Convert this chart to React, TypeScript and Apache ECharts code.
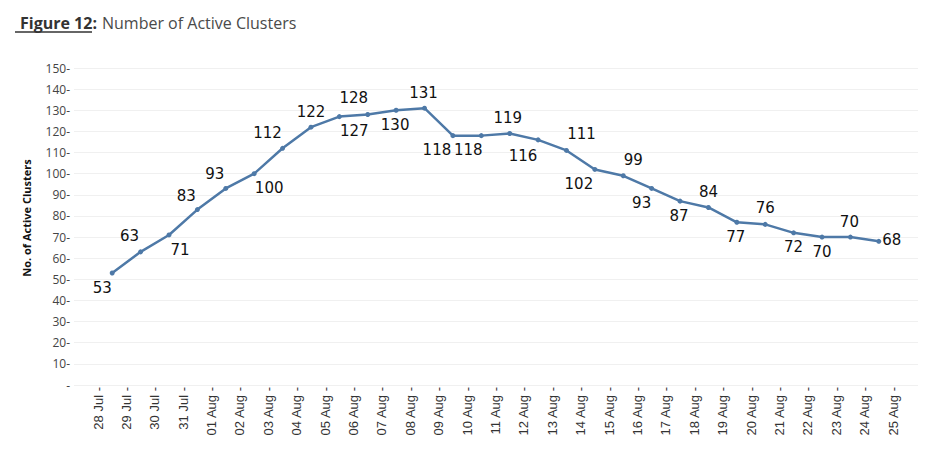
import React, { useEffect, useRef } from 'react';
import * as echarts from 'echarts';

const dates = [
  '28 Jul', '29 Jul', '30 Jul', '31 Jul', '01 Aug', '02 Aug', '03 Aug', '04 Aug',
  '05 Aug', '06 Aug', '07 Aug', '08 Aug', '09 Aug', '10 Aug', '11 Aug', '12 Aug',
  '13 Aug', '14 Aug', '15 Aug', '16 Aug', '17 Aug', '18 Aug', '19 Aug', '20 Aug',
  '21 Aug', '22 Aug', '23 Aug', '24 Aug', '25 Aug',
];

const activeClusters = [
  53, 63, 71, 83, 93, 100, 112, 122, 127, 128, 130, 131, 118, 118,
  119, 116, 111, 102, 99, 93, 87, 84, 77, 76, 72, 70, 70, 68,
];

const yMin = 0;
const yMax = 150;
const yInterval = 10;

// label placement (dx, dy) relative to each point
const labelOffsets: number[][] = [
  [-10, 15], [-11, -16], [11, 15], [-11, -14], [-11, -14], [15, 14], [-15, -15],
  [0, -15], [15, 14], [-14, -16], [-1, 15], [-1, -15], [-16, 14], [-13, 14],
  [-2, -16], [-15, 16], [15, -16], [-16, 15], [10, -16], [-10, 15], [-1, 15],
  [0, -15], [-1, 15], [0, -16], [0, 14], [0, 15], [-1, -15], [13, -1],
];

const pointCategories = activeClusters.map((_, i) => dates[i]);

export default function App() {
  const ref = useRef<HTMLDivElement>(null);

  useEffect(() => {
    if (!ref.current) return;
    const chart = echarts.init(ref.current, null, { renderer: 'svg' });
    const gridTop = 68;
    const gridBottom = 69;
    chart.setOption({
      animation: false,
      backgroundColor: '#ffffff',
      title: {
        left: 15,
        top: 9,
        text: '{a|Figure 12:} {b|Number of Active Clusters}',
        textStyle: {
          rich: {
            a: { fontFamily: 'Open Sans', fontSize: 16, fontWeight: 'bold', color: '#333333' },
            b: { fontFamily: 'Open Sans', fontSize: 16, fontWeight: 'normal', color: '#4a4a4a' },
          },
        },
      },
      graphic: [
        {
          type: 'line',
          shape: { x1: 15, y1: 32, x2: 92, y2: 32 },
          style: { stroke: '#333333', lineWidth: 1.3 },
        },
        {
          type: 'text',
          x: 26,
          y: 218,
          rotation: Math.PI / 2,
          style: {
            text: 'No. of Active Clusters',
            font: 'bold 11px "Open Sans", sans-serif',
            fill: '#111111',
            align: 'center',
            verticalAlign: 'middle',
          },
        },
      ],
      grid: [
        { left: 74, right: 15, top: gridTop, bottom: gridBottom },
        { left: 98, right: 40, top: gridTop, bottom: gridBottom },
      ],
      xAxis: [
        { type: 'category', gridIndex: 0, data: dates, show: false },
        {
          type: 'category',
          gridIndex: 1,
          data: dates,
          boundaryGap: false,
          axisLine: { show: false },
          axisTick: { show: false },
          splitLine: { show: false },
          axisLabel: {
            rotate: 90,
            margin: 2,
            interval: 0,
            fontFamily: 'Liberation Sans, Arial, sans-serif',
            fontSize: 13,
            color: '#333333',
            formatter: (v: string) => `${v} -`,
          },
        },
        { type: 'category', gridIndex: 1, data: pointCategories, boundaryGap: true, show: false },
      ],
      yAxis: [
        {
          type: 'value',
          gridIndex: 0,
          min: yMin,
          max: yMax,
          interval: yInterval,
          axisLine: { show: false },
          axisTick: { show: false },
          splitLine: { show: true, lineStyle: { color: '#f0f0f0', width: 1 } },
          axisLabel: {
            margin: 4,
            fontFamily: 'Open Sans, sans-serif',
            fontSize: 12,
            color: '#444444',
            formatter: (v: number) => (v === 0 ? '-' : `${v}-`),
          },
        },
        { type: 'value', gridIndex: 1, min: yMin, max: yMax, interval: yInterval, show: false },
      ],
      series: [
        {
          type: 'line',
          xAxisIndex: 2,
          yAxisIndex: 1,
          data: activeClusters.map((v, i) => ({
            value: v,
            label: { offset: labelOffsets[i] },
          })),
          symbol: 'circle',
          symbolSize: 5,
          lineStyle: { color: '#4e79a7', width: 2.5 },
          itemStyle: { color: '#4e79a7' },
          label: {
            show: true,
            position: 'inside',
            align: 'center',
            verticalAlign: 'middle',
            fontFamily: 'DejaVu Sans, sans-serif',
            fontSize: 15,
            color: '#111111',
          },
        },
      ],
    });
    return () => chart.dispose();
  }, []);

  return (
    <div
      ref={ref}
      style={{ position: 'fixed', left: 0, top: 0, width: 933, height: 454 }}
    />
  );
}
